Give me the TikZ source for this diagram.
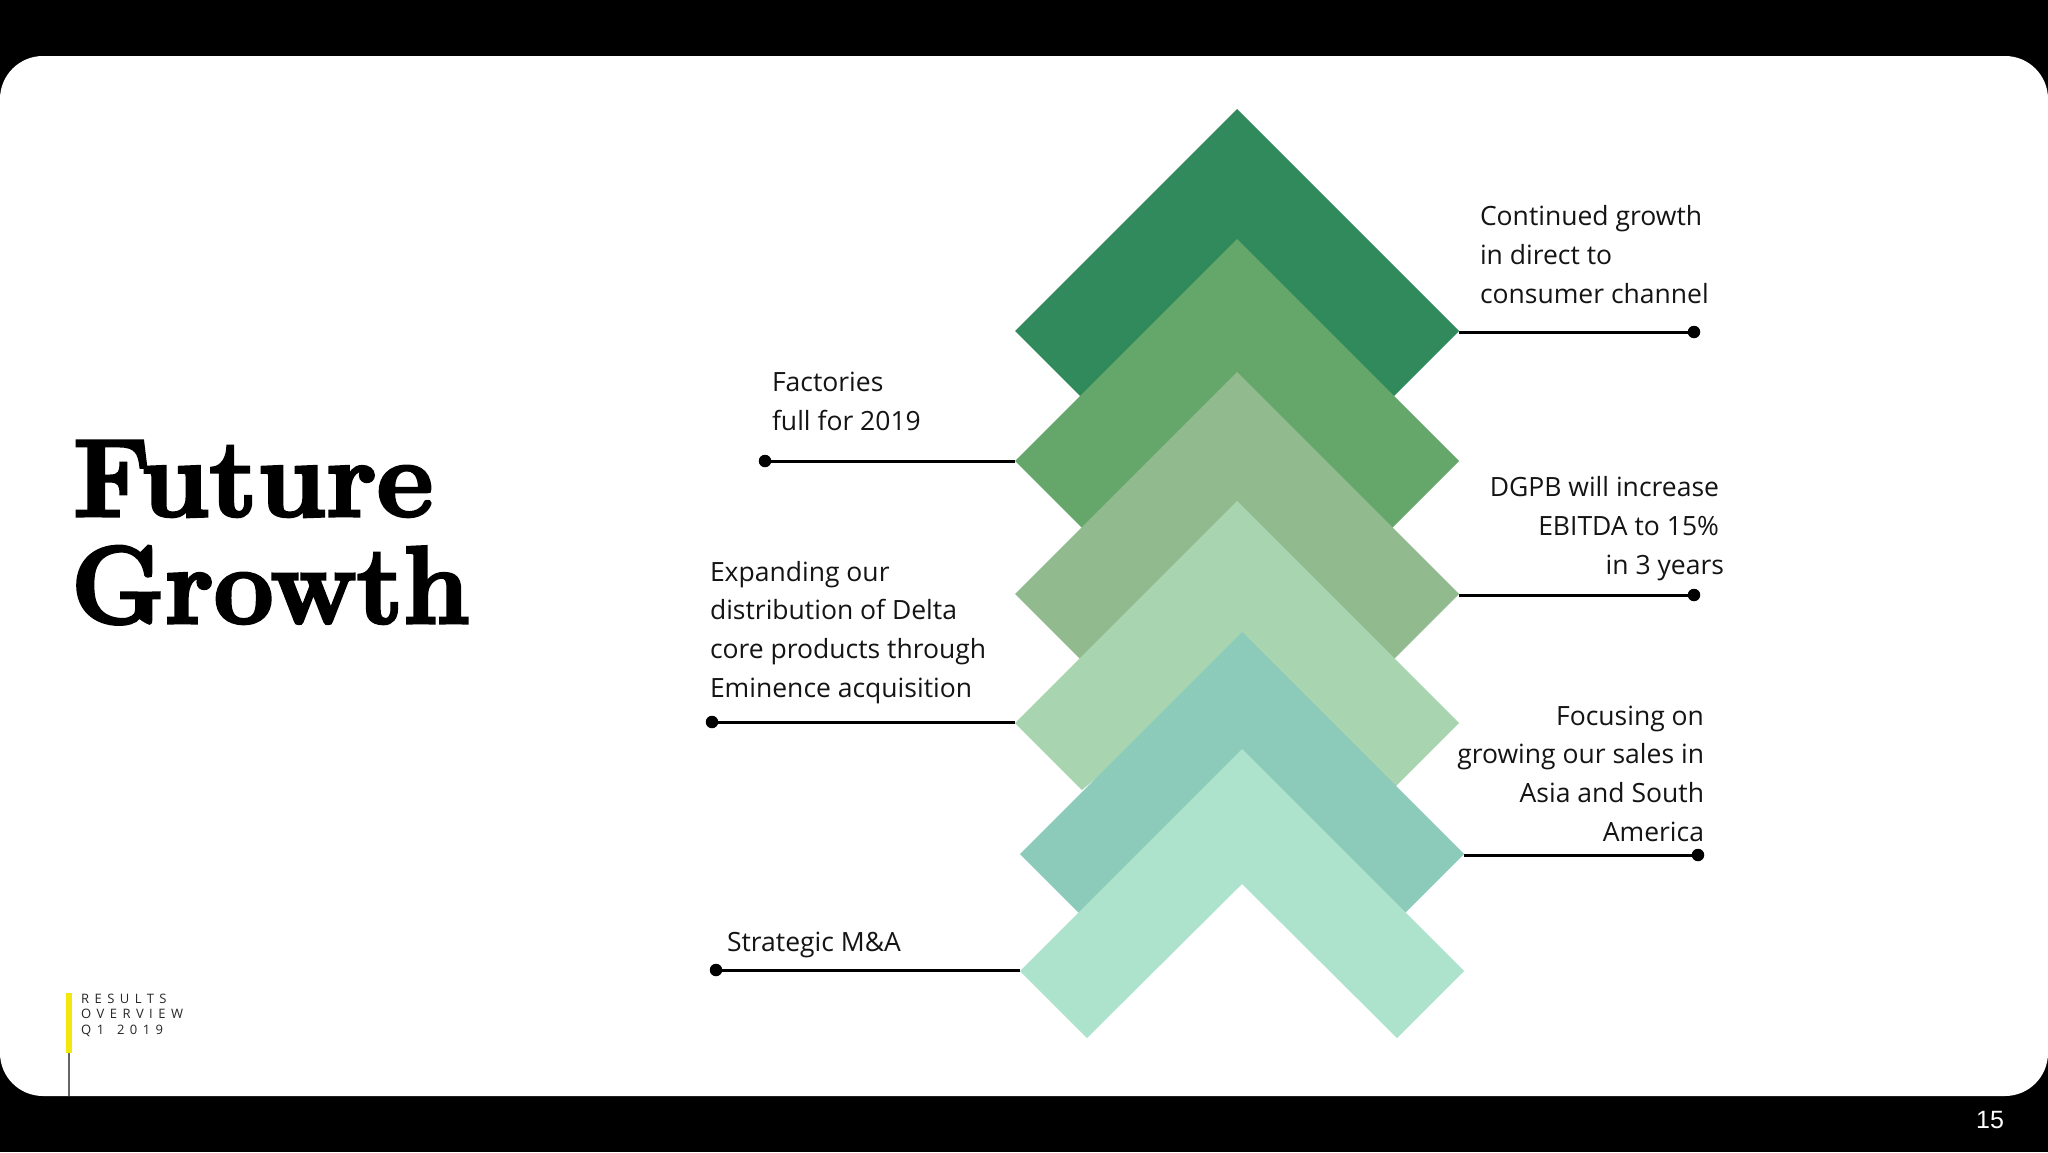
\documentclass[tikz,border=0pt]{standalone}
\usepackage{fontspec}
\setmainfont{Open Sans}
\newfontfamily\titlefont[BoldFeatures={FakeBold=3}]{Latin Modern Roman}
\newfontfamily\pagefont{Liberation Sans}
\newfontfamily\footfont[LetterSpace=42]{Open Sans}
\definecolor{chA}{HTML}{318A5B}
\definecolor{chB}{HTML}{65A66B}
\definecolor{chC}{HTML}{91BB8F}
\definecolor{chD}{HTML}{A8D5AF}
\definecolor{chE}{HTML}{8CCBBA}
\definecolor{chF}{HTML}{ADE3CC}
\definecolor{barY}{HTML}{F2E80E}
\definecolor{stemG}{HTML}{666666}
\tikzset{
  lbl/.style={inner sep=0pt,outer sep=0pt,font=\fontsize{26.5}{38.6}\selectfont,text=black!92},
  lblL/.style={lbl,align=left,anchor=base west},
  lblR/.style={lbl,align=right,anchor=base east},
  dotn/.style={circle,fill=black,inner sep=0pt,minimum size=12.5pt},
  link/.style={draw=black,line width=3pt},
}
% #1 name, #2 centre x, #3 apex y, #4 colour, #5 notch depth
\newcommand{\chevshape}[5]{%
  \fill[#4] (#2,#3) -- (#2+222,#3+222) -- (#2+155,#3+289) -- (#2,#3+#5) -- (#2-155,#3+289) -- (#2-222,#3+222) -- cycle;
  \coordinate (#1L) at (#2-222,#3+222);
  \coordinate (#1R) at (#2+222,#3+222);
}
\begin{document}
\begin{tikzpicture}[x=1pt,y=-1pt]
\useasboundingbox (0,0) rectangle (2048,1152);
\fill[black] (0,0) rectangle (2048,1152);
\fill[white,rounded corners=43pt] (0,56) rectangle (2048,1096);

\chevshape{a}{1237}{109}{chA}{160}
\chevshape{b}{1237}{239}{chB}{160}
\chevshape{c}{1237}{372}{chC}{160}
\chevshape{d}{1237}{501}{chD}{160}
\chevshape{e}{1242}{632}{chE}{160}
\chevshape{f}{1242}{749}{chF}{135}

\node[dotn] (da) at (1694,332) {};
\node[dotn] (db) at (765,461) {};
\node[dotn] (dc) at (1694,595) {};
\node[dotn] (dd) at (712,722) {};
\node[dotn] (de) at (1698,855) {};
\node[dotn] (df) at (716,970) {};
\path[link] (aR |- da) -- (da);
\path[link] (bL) -- (db);
\path[link] (cR |- dc) -- (dc);
\path[link] (dL |- dd) -- (dd);
\path[link] (eR |- de) -- (de);
\path[link] (fL |- df) -- (df);

\node[lblL] (ta) at (1480,303) {Continued growth\\in direct to\\consumer channel};
\node[lblL] (tb) at (772,430) {Factories\\full for 2019};
\node[lblR] (tc) at (1724,574) {\mbox{DGPB will increase\kern5pt}\\\mbox{EBITDA to 15\%\kern5pt}\\in 3 years};
\node[lblL] (td) at (710,697) {Expanding our\\distribution of Delta\\core products through\\Eminence acquisition};
\node[lblR] (te) at (1704,841) {Focusing on\\growing our sales in\\Asia and South\\America};
\node[lblL] (tf) at (727,951) {Strategic M\&A};

\node[inner sep=0pt,align=left,anchor=base west,font=\titlefont\bfseries\fontsize{110}{107}\selectfont] (title) at (73,623) {Future\\\kern-2pt\scalebox{0.965}[1]{Growth}};

\fill[barY] (66,993) rectangle (72,1053);
\fill[stemG] (68,1053) rectangle (70,1096);
\node[inner sep=0pt,align=left,anchor=base west,text=black!85,font=\footfont\fontsize{13}{15.4}\selectfont] (foot) at (81,1034) {RESULTS\\OVERVIEW\\Q1\hspace{4pt} 2019};

\node[inner sep=0pt,anchor=base west,text=white,font=\pagefont\fontsize{25}{25}\selectfont] (page) at (1976,1128) {15};
\end{tikzpicture}
\end{document}
